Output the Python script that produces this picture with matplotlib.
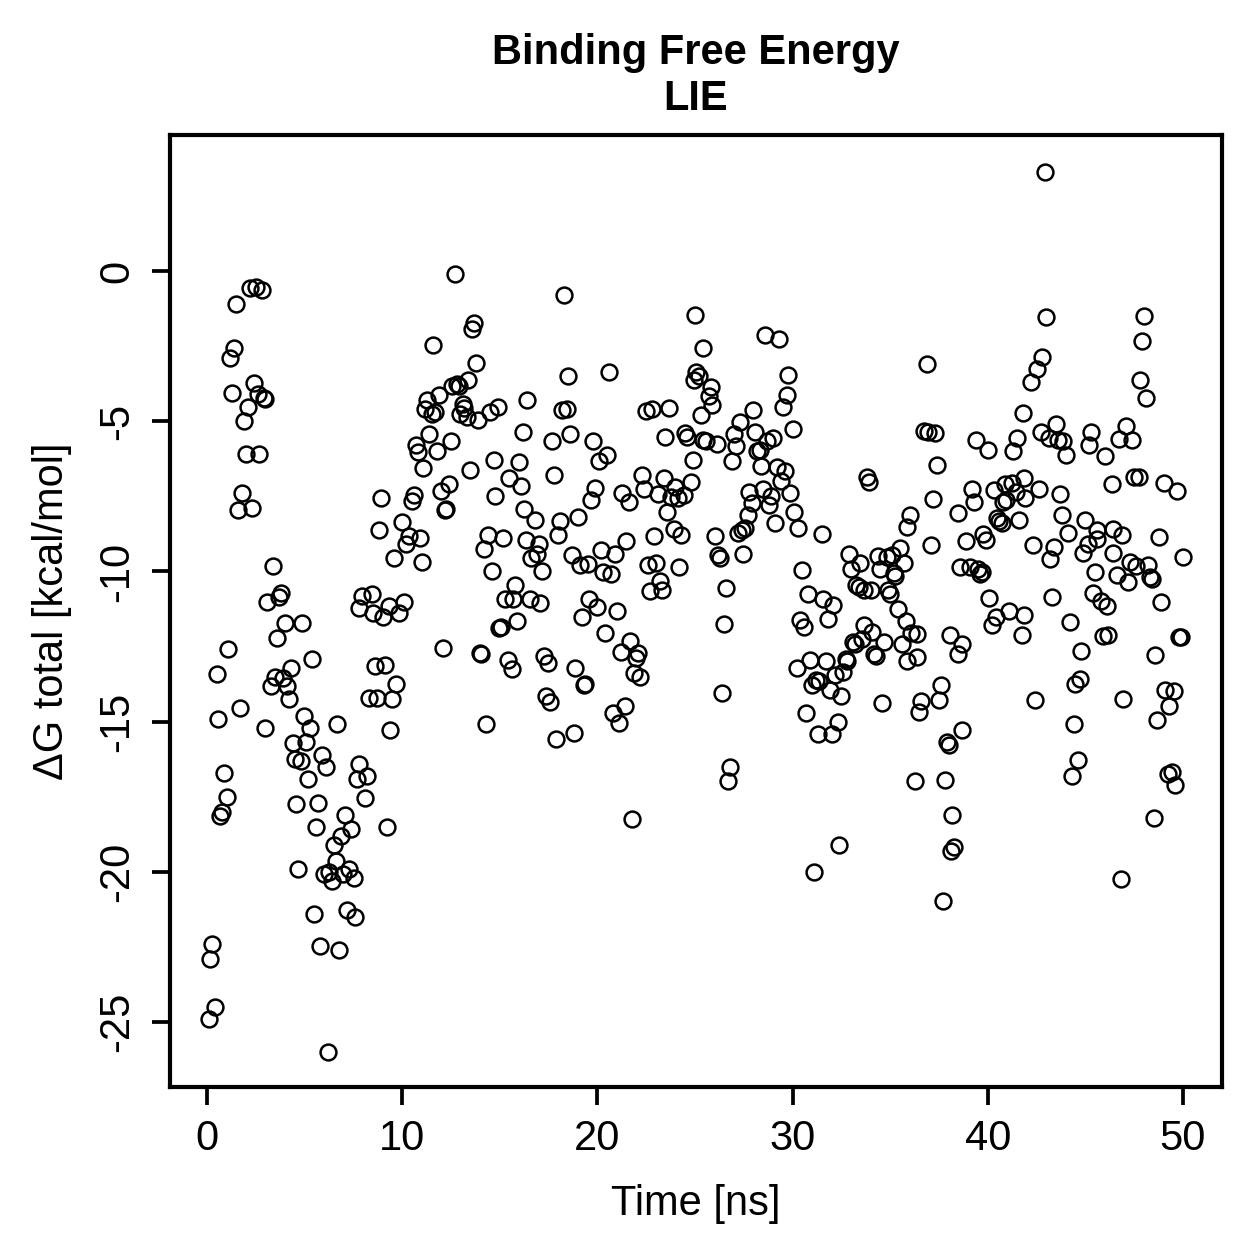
import matplotlib
matplotlib.use("Agg")
import matplotlib.pyplot as plt

plt.rcParams['font.family'] = ['Liberation Sans', 'DejaVu Sans']

# (time [ns], dG total [kcal/mol]), grouped by region
time_ns = [
    1.49, 2.2, 2.5, 2.8, 1.38, 1.18, 2.39, 1.28, 2.63, 2.93, 2.97, 2.08, 1.9, 1.98, 2.68, 1.78, 1.57, 2.29,
    3.38, 3.79, 3.69, 3.07, 7.8,
    3.98, 4.88, 3.59, 1.08, 5.38, 0.5, 4.29, 3.48, 3.28, 3.88, 4.08, 4.18, 1.69, 0.58, 2.98, 4.98, 5.29,
    6.68, 4.39, 5.09, 4.48, 4.8, 5.87, 6.1, 5.19, 7.77, 7.68, 0.89, 1.0, 0.75, 0.68, 8.1, 4.58, 5.69,
    7.09, 7.38, 6.86, 6.49, 5.58, 6.59, 4.68, 5.98, 6.27, 6.39, 6.98, 7.27, 7.51, 5.48, 7.17, 7.58,
    5.79, 6.76, 0.27, 0.17, 0.39, 0.09, 6.18,
    12.69, 13.69, 13.58, 11.59, 13.78, 13.39, 12.57, 12.79, 12.89, 11.89, 11.29, 11.17, 11.51, 11.7,
    13.1, 13.18, 12.96, 13.3, 13.88, 14.5, 14.89, 16.41, 11.39, 12.49, 16.17, 10.69, 10.79, 11.78,
    11.08, 13.49, 14.68, 15.99, 15.48, 16.09, 12.41, 11.99, 8.9, 10.6, 10.49, 14.76, 12.22, 12.17,
    16.24, 9.97, 8.81, 10.35, 10.21, 10.91, 14.4, 15.18, 14.17, 16.34, 9.58, 10.99, 14.58, 15.78,
    15.28, 15.69, 16.55, 7.96, 8.44,
    8.49, 9.0, 9.32, 9.85, 10.08,
    15.9, 15.06, 14.97, 12.09, 14.04, 13.99, 15.4, 15.6, 8.59, 9.1, 9.7, 8.28, 8.73, 9.48, 9.39, 14.27,
    8.2, 9.2,
    18.3, 18.49, 20.59, 18.17, 18.43, 22.47, 22.78, 23.68, 17.69, 18.6, 19.79, 23.48, 24.49, 24.61,
    20.5, 20.09, 17.79, 22.28, 23.4, 19.89, 19.69, 21.27, 21.6, 22.39, 23.09, 23.99, 23.75, 24.11,
    24.45, 16.79, 18.08, 18.99, 23.58, 17.98, 23.9, 24.3, 22.9, 21.48, 17.01, 16.89, 16.58, 17.18,
    18.68, 19.11, 19.5, 20.2, 20.89, 20.29, 20.7, 22.59, 23.02, 24.18, 23.21, 22.71, 23.29, 17.07,
    19.58, 19.98, 21.0,
    19.19, 20.39, 21.69, 21.19, 22.1, 21.98, 21.86, 22.18, 17.28, 17.47, 18.87, 19.33, 19.36, 17.38,
    17.59, 21.39, 20.8, 21.09, 18.78, 17.9, 21.77,
    25.02, 28.6, 29.29, 25.39, 29.78, 25.07, 25.2, 24.95, 25.8, 25.7, 25.89, 29.71, 29.51, 25.3,
    27.99, 27.3, 30.0, 26.98, 28.09, 25.43, 25.56, 26.11, 27.1, 29.01, 28.7, 28.31, 28.19, 26.88,
    24.88, 24.79, 28.38, 29.19, 29.59, 29.39, 29.88, 27.78, 28.5, 28.91, 27.9, 28.79, 27.69, 30.08,
    29.1, 30.29, 27.58, 27.41, 27.22, 31.49, 26.0, 27.46, 26.18, 26.28, 32.9, 32.99, 30.5, 26.59,
    30.79, 31.57, 32.09, 33.23,
    26.5, 26.38, 26.79, 26.69, 30.38, 30.58, 31.8, 33.1, 33.2, 32.72, 32.77, 32.58, 32.19, 31.7,
    30.91, 30.2, 30.98, 31.2, 31.37, 31.92, 32.5, 30.69, 32.31, 31.29, 32.0, 32.39, 31.1,
    36.9, 36.75, 36.95, 37.31, 37.4, 39.4, 39.99, 41.5, 41.29, 33.79, 33.9, 37.17, 39.19, 39.29,
    40.3, 40.88, 41.22, 41.44, 40.95, 40.76, 40.47, 40.57, 40.71, 41.58, 36.0, 35.88, 38.49, 37.09,
    39.77, 39.91, 38.88, 35.5, 34.39, 34.82, 35.11, 35.71, 33.44, 34.5, 35.21, 35.26, 38.57, 39.09,
    39.51, 39.68, 39.62, 33.4, 33.66, 34.0, 34.89, 35.0, 40.08, 35.42, 41.09,
    35.79, 33.67, 34.08, 33.54, 34.7, 35.59, 36.05, 36.39, 34.16, 34.26, 35.87, 36.39, 38.08, 38.7,
    38.49, 40.4, 40.2, 37.6, 37.48, 36.59, 36.49, 34.59, 38.68, 37.89, 37.99, 36.28, 37.79, 38.18,
    38.28, 38.1, 37.69,
    42.91, 43.0, 47.98, 47.9, 47.78, 48.09, 42.79, 42.5, 42.2, 41.79, 43.49, 42.71, 43.14, 43.62,
    43.87, 44.01, 45.29, 45.2, 46.0, 46.7, 47.08, 47.4, 41.86, 42.62, 41.89, 43.7, 46.35, 47.51,
    47.73, 49.04, 49.67, 43.78, 44.99, 44.13, 45.58, 46.39, 46.88, 48.78, 42.3, 43.39, 43.2, 45.13,
    45.61, 44.89, 46.4, 47.28, 47.59, 48.19, 48.31, 48.41, 49.98, 45.5, 46.6, 47.2, 43.29, 45.39,
    45.8, 46.09, 48.88,
    41.85, 44.19, 41.77, 45.88, 46.17, 49.81, 49.91, 44.79, 48.58, 44.71, 44.48, 49.06, 49.52, 49.3,
    48.68, 42.4, 46.91, 44.42, 44.61, 44.3, 49.22, 49.42, 49.59, 48.5, 46.81,
]

dg_total = [
    -1.1, -0.56, -0.53, -0.64, -2.55, -2.9, -3.72, -4.05, -4.1, -4.23, -4.26, -4.53, -5.0, -6.1, -6.1, -7.4, -7.95, -7.88,
    -9.83, -10.7, -10.84, -11.0, -11.2,
    -11.7, -11.72, -12.2, -12.57, -12.9, -13.4, -13.2, -13.5, -13.8, -13.56, -13.8, -14.24, -14.54, -14.92, -15.2, -14.8, -15.2,
    -15.08, -15.7, -15.67, -16.25, -16.3, -16.1, -16.5, -16.9, -16.4, -16.9, -16.7, -17.5, -18.0, -18.14, -17.55, -17.74, -17.7,
    -18.1, -18.56, -18.8, -19.1, -18.5, -19.64, -19.9, -20.08, -20.0, -20.3, -20.07, -19.9, -20.2, -21.4, -21.27, -21.5,
    -22.46, -22.6, -22.4, -22.9, -24.5, -24.9, -26.0,
    -0.11, -1.72, -1.94, -2.46, -3.05, -3.63, -3.82, -3.77, -3.83, -4.14, -4.3, -4.6, -4.76, -4.7,
    -4.44, -4.57, -4.77, -4.85, -4.96, -4.7, -4.53, -4.3, -5.43, -5.66, -5.36, -5.8, -6.03, -6.0,
    -6.56, -6.61, -6.3, -6.36, -6.88, -7.14, -7.1, -7.32, -7.55, -7.46, -7.66, -7.5, -7.91, -7.95,
    -7.92, -8.34, -8.61, -8.82, -9.07, -8.88, -8.79, -8.87, -9.25, -8.95, -9.55, -9.7, -10.0, -10.45,
    -10.92, -10.92, -10.9, -10.8, -10.76,
    -11.38, -11.53, -11.15, -11.37, -11.03,
    -11.64, -11.86, -11.88, -12.54, -12.73, -12.7, -12.95, -13.23, -13.13, -13.1, -13.76, -14.2, -14.2, -14.26, -15.26, -15.06,
    -16.8, -18.5,
    -0.81, -3.5, -3.37, -4.63, -4.58, -4.66, -4.59, -4.55, -5.65, -5.42, -5.67, -5.52, -5.39, -5.52,
    -6.11, -6.32, -6.79, -6.8, -6.9, -7.22, -7.63, -7.38, -7.7, -7.27, -7.41, -7.19, -7.52, -7.56,
    -7.47, -8.29, -8.32, -8.18, -8.02, -8.77, -8.58, -8.79, -8.81, -8.98, -9.09, -9.43, -9.54, -9.98,
    -9.44, -9.78, -9.76, -9.29, -9.41, -10.01, -10.08, -9.8, -9.71, -9.86, -10.3, -10.65, -10.6, -11.06,
    -10.9, -11.17, -11.33,
    -11.52, -12.04, -12.33, -12.67, -12.72, -12.87, -13.38, -13.52, -12.82, -13.03, -13.2, -13.78, -13.74, -14.13,
    -14.34, -14.48, -14.7, -15.04, -15.36, -15.58, -18.25,
    -1.47, -2.13, -2.26, -2.55, -3.46, -3.35, -3.5, -3.63, -3.85, -4.15, -4.45, -4.14, -4.52, -4.78,
    -4.63, -5.02, -5.25, -5.43, -5.36, -5.63, -5.66, -5.76, -5.82, -5.54, -5.67, -5.94, -5.99, -6.33,
    -6.29, -7.01, -6.5, -6.52, -6.66, -6.98, -7.38, -7.37, -7.25, -7.49, -7.71, -7.8, -8.12, -8.02,
    -8.38, -8.54, -8.56, -8.63, -8.73, -8.74, -8.82, -9.41, -9.46, -9.56, -9.43, -9.92, -9.95, -10.54,
    -10.76, -10.9, -11.12, -10.46,
    -11.74, -14.06, -16.52, -16.99, -11.62, -11.86, -11.58, -12.34, -12.43, -12.9, -12.97, -13.33, -13.45, -12.97,
    -12.96, -13.2, -13.78, -13.61, -13.64, -13.93, -14.16, -14.71, -15.0, -15.4, -15.4, -19.12, -20.0,
    -3.08, -5.33, -5.35, -5.38, -6.45, -5.63, -5.94, -5.56, -6.0, -6.85, -7.01, -7.6, -7.27, -7.69,
    -7.29, -7.09, -7.07, -7.35, -7.62, -7.68, -8.21, -8.32, -8.38, -8.3, -8.13, -8.52, -8.06, -9.12,
    -8.76, -8.94, -8.99, -9.22, -9.48, -9.52, -9.45, -9.72, -9.72, -9.92, -10.06, -10.14, -9.84, -9.86,
    -9.93, -10.01, -10.09, -10.53, -10.6, -10.6, -10.6, -10.76, -10.87, -11.26, -11.33,
    -11.64, -11.78, -12.0, -12.26, -12.36, -12.43, -12.06, -12.08, -12.73, -12.8, -12.97, -12.84, -12.1, -12.41,
    -12.75, -11.53, -11.78, -13.77, -14.28, -14.3, -14.68, -14.38, -15.27, -15.66, -15.78, -16.99, -16.95, -18.11,
    -19.16, -19.3, -20.96,
    3.3, -1.54, -1.51, -2.33, -3.61, -4.23, -2.87, -3.25, -3.68, -4.74, -5.09, -5.35, -5.55, -5.63,
    -5.65, -6.13, -5.36, -5.79, -6.15, -5.58, -5.17, -5.63, -6.9, -7.27, -7.57, -7.41, -7.08, -6.86,
    -6.87, -7.07, -7.32, -8.13, -8.29, -8.73, -8.62, -8.58, -8.79, -8.84, -9.12, -9.17, -9.6, -9.07,
    -8.93, -9.38, -9.37, -9.7, -9.83, -9.77, -10.18, -10.25, -9.51, -10.01, -10.12, -10.36, -10.84, -10.73,
    -10.97, -11.15, -11.0,
    -11.44, -11.68, -12.13, -12.16, -12.13, -12.17, -12.17, -12.63, -12.79, -13.59, -13.73, -13.95, -13.98, -14.49,
    -14.95, -14.27, -14.26, -15.07, -16.29, -16.81, -16.73, -16.69, -17.1, -18.22, -20.25,
]

x_ticks = [0, 10, 20, 30, 40, 50]
y_ticks = [0, -5, -10, -15, -20, -25]

fig = plt.figure(figsize=(1259 / 300, 1259 / 300), dpi=300)
ax = fig.add_axes([170 / 1259, 1 - 1087 / 1259, (1222 - 170) / 1259, (1087 - 135) / 1259])

# R-style open circles
ax.plot(time_ns, dg_total, linestyle='none', marker='o', markersize=3.8,
        markerfacecolor='none', markeredgecolor='black', markeredgewidth=0.6)

ax.set_xlim(-1.9, 52.0)
ax.set_ylim(-27.16, 4.53)
ax.set_xticks(x_ticks)
ax.set_yticks(y_ticks)
ax.set_yticklabels([str(v) for v in y_ticks], rotation=90, va='center')

for s in ax.spines.values():
    s.set_linewidth(1.0)
ax.tick_params(direction='out', length=4.3, width=0.9, labelsize=10, pad=3.5)

ax.set_xlabel('Time [ns]', fontsize=10, labelpad=6)
ax.set_ylabel('ΔG total [kcal/mol]', fontsize=10, labelpad=6)
ax.set_title('Binding Free Energy\nLIE', fontsize=10, fontweight='bold', pad=6, linespacing=1.2)

fig.savefig('out.png', dpi=300)
